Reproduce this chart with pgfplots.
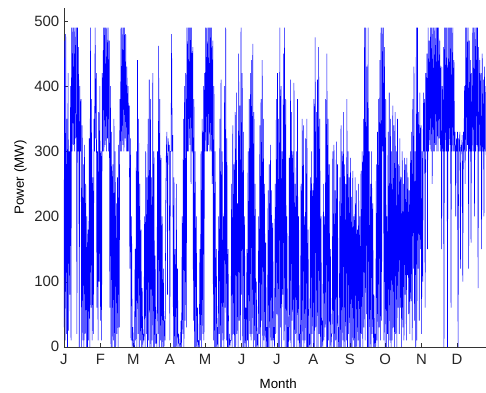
\documentclass[border=0pt]{standalone}
\usepackage{pgfplots}
\pgfplotsset{compat=1.18}
\usepackage{fontspec}
\setmainfont{Liberation Sans}
\definecolor{mblue}{RGB}{0,0,255}
\begin{document}
\begin{tikzpicture}
\begin{axis}[
  scale only axis,
  width=316.5pt, height=254.25pt,
  xmin=0, xmax=717, ymin=0, ymax=520,
  axis x line*=bottom, axis y line*=left,
  axis line style={-, black!80},
  xtick={0,62,118,180,240,302,362,424,486,546,608,668},
  xticklabels={J,F,M,A,M,J,J,A,S,O,N,D},
  ytick={0,100,200,300,400,500},
  tick align=inside, major tick length=3pt,
  tick style={black!80},
  /pgf/number format/assume math mode=true,
  ticklabel style={font=\fontsize{11.2}{13}\selectfont, black!85},
  xticklabel style={yshift=-2pt},
  xlabel={Month}, ylabel={Power (MW)},
  label style={font=\fontsize{12.7}{14}\selectfont, black!85},
  every axis y label/.style={at={(axis description cs:0,0.5)}, xshift=-32.6pt, rotate=90, anchor=center},
  every axis x label/.style={at={(axis description cs:0.508,0)}, yshift=-27.5pt, anchor=center},
]
\addplot[mblue, line width=0.4pt, line join=bevel] table[x expr=\coordindex, y index=0, header=false, row sep=\\] {
30\\470\\10\\480\\20\\350\\0\\420\\25\\300\\
80\\400\\10\\490\\300\\490\\310\\490\\300\\490\\
320\\490\\20\\490\\300\\460\\0\\400\\300\\380\\
0\\340\\10\\280\\0\\310\\20\\250\\0\\200\\
0\\180\\10\\320\\0\\490\\60\\380\\10\\260\\
20\\350\\300\\490\\320\\420\\60\\300\\10\\360\\
100\\400\\40\\300\\10\\420\\300\\490\\300\\490\\
310\\490\\300\\490\\320\\490\\300\\470\\60\\400\\
0\\330\\0\\280\\10\\350\\0\\300\\0\\220\\
20\\260\\0\\310\\30\\380\\300\\490\\300\\490\\
310\\490\\300\\490\\320\\480\\300\\430\\300\\400\\
300\\370\\120\\320\\10\\200\\0\\30\\5\\0\\
0\\150\\10\\300\\0\\440\\20\\350\\0\\250\\
10\\180\\0\\90\\0\\20\\10\\200\\0\\300\\
20\\260\\0\\350\\10\\410\\0\\380\\0\\260\\
10\\420\\0\\300\\0\\140\\5\\20\\0\\300\\
20\\462\\0\\380\\10\\290\\0\\200\\0\\120\\
0\\40\\10\\220\\300\\330\\80\\320\\300\\310\\
10\\300\\300\\480\\300\\325\\0\\260\\0\\150\\
0\\250\\0\\120\\0\\20\\5\\0\\0\\40\\
0\\200\\20\\350\\0\\400\\40\\420\\30\\490\\
300\\490\\300\\490\\310\\490\\250\\490\\300\\460\\
40\\380\\0\\300\\0\\200\\0\\60\\0\\10\\
0\\150\\10\\300\\0\\350\\20\\400\\10\\420\\
300\\490\\300\\490\\300\\490\\310\\490\\300\\490\\
300\\490\\250\\470\\10\\400\\0\\300\\0\\150\\
0\\30\\0\\200\\20\\350\\0\\410\\0\\300\\
10\\200\\0\\400\\60\\490\\10\\320\\0\\150\\
0\\20\\0\\10\\10\\250\\0\\340\\20\\280\\
0\\360\\0\\390\\20\\220\\0\\450\\40\\370\\
10\\490\\80\\420\\0\\330\\0\\200\\0\\60\\
0\\150\\10\\300\\0\\380\\20\\420\\10\\440\\
20\\465\\0\\360\\10\\250\\0\\100\\0\\20\\
0\\200\\20\\340\\0\\380\\40\\440\\0\\350\\
10\\250\\0\\160\\0\\30\\0\\240\\0\\280\\
0\\310\\10\\240\\0\\190\\10\\30\\0\\250\\
20\\380\\50\\420\\0\\350\\0\\490\\30\\400\\
0\\300\\80\\450\\10\\490\\0\\380\\0\\200\\
0\\30\\0\\290\\10\\410\\0\\360\\40\\300\\
0\\405\\0\\250\\20\\300\\0\\380\\10\\200\\
0\\20\\0\\250\\0\\350\\10\\340\\0\\200\\
10\\320\\0\\350\\0\\180\\0\\20\\0\\260\\
0\\300\\20\\240\\0\\380\\0\\475\\30\\360\\
0\\410\\0\\460\\20\\350\\0\\200\\0\\40\\
0\\250\\10\\200\\30\\380\\0\\450\\0\\350\\
10\\280\\0\\150\\0\\20\\20\\300\\0\\310\\
0\\240\\10\\315\\0\\280\\0\\30\\0\\260\\
0\\340\\0\\300\\10\\360\\0\\280\\0\\250\\
10\\380\\0\\300\\20\\260\\0\\290\\0\\230\\
0\\270\\10\\200\\0\\260\\0\\240\\0\\180\\
10\\250\\0\\200\\0\\270\\20\\300\\0\\350\\
30\\490\\10\\490\\50\\430\\0\\490\\0\\300\\
0\\250\\0\\300\\20\\220\\0\\80\\0\\20\\
0\\280\\10\\330\\0\\380\\30\\440\\10\\490\\
40\\490\\300\\490\\10\\460\\0\\380\\0\\200\\
20\\330\\0\\390\\10\\350\\0\\300\\10\\370\\
30\\340\\0\\360\\20\\300\\0\\350\\60\\280\\
20\\320\\60\\260\\0\\300\\30\\250\\10\\290\\
80\\280\\10\\290\\110\\260\\50\\240\\20\\300\\
70\\330\\10\\380\\120\\430\\40\\300\\0\\490\\
10\\490\\120\\360\\40\\390\\150\\340\\20\\300\\
100\\390\\300\\380\\60\\420\\300\\450\\150\\490\\
300\\470\\310\\490\\300\\490\\250\\490\\300\\490\\
300\\490\\310\\490\\300\\490\\300\\490\\320\\470\\
300\\430\\150\\400\\300\\460\\0\\490\\300\\490\\
300\\490\\0\\490\\300\\490\\310\\490\\60\\490\\
300\\490\\300\\440\\300\\330\\200\\320\\300\\330\\
0\\320\\300\\330\\120\\310\\300\\325\\100\\330\\
300\\400\\250\\490\\300\\490\\310\\490\\120\\470\\
300\\440\\160\\420\\300\\490\\300\\490\\200\\490\\
300\\490\\310\\490\\90\\460\\300\\440\\300\\420\\
150\\450\\300\\410\\200\\430\\300\\400\\180\\420\\
};
\end{axis}
\path (current axis.south west) ++(-48pt,-33.75pt) rectangle ([yshift=6pt]current axis.north east);
\end{tikzpicture}
\end{document}
